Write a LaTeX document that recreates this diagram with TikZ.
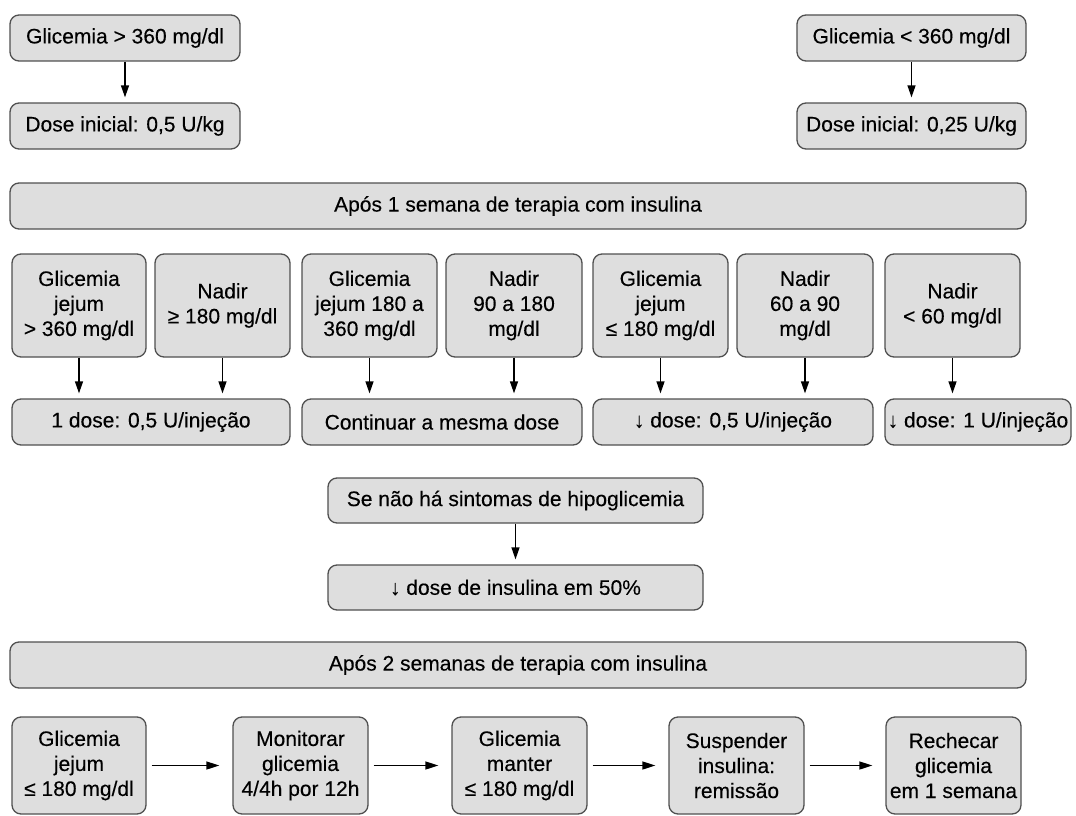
\documentclass[tikz,border=0pt]{standalone}
\usepackage{fontspec}
\setmainfont[FakeBold=0.25]{Liberation Sans}
\usetikzlibrary{arrows.meta}
\definecolor{boxfill}{HTML}{DEDEDE}
\definecolor{boxdraw}{HTML}{505050}
\tikzset{
  box/.style={draw=boxdraw, fill=boxfill, line width=1.3pt, rounded corners=9pt,
    inner sep=0pt, align=center, minimum height=46pt,
    font=\fontsize{21}{25}\selectfont},
  tall/.style={minimum height=103pt},
  arr/.style={line width=1.3pt, -{Triangle[length=12pt,width=8pt]}, shorten >=5pt},
  harr/.style={line width=1.3pt, -{Triangle[length=13pt,width=8pt]}, shorten >=13pt, shorten <=5pt},
}
\begin{document}
\begin{tikzpicture}[x=1pt,y=-1pt]
\useasboundingbox[fill=white] (0,0) rectangle (1076,816);
% row 1-2
\node[box, minimum width=230pt] (a1) at (125,38) {Glicemia > 360 mg/dl};
\node[box, minimum width=229pt] (a2) at (911.5,38) {Glicemia < 360 mg/dl};
\node[box, minimum width=230pt] (b1) at (125,126) {Dose inicial: 0,5 U/kg};
\node[box, minimum width=229pt] (b2) at (911.5,126) {Dose inicial: 0,25 U/kg};
\draw[arr] (a1) -- (b1);
\draw[arr] (a2) -- (b2);
% semana 1
\node[box, minimum width=1016pt] (s1) at (518,206) {Após 1 semana de terapia com insulina};
% row 4
\node[box, tall, minimum width=134pt] (c1) at (79,305.5) {Glicemia\\jejum\\> 360 mg/dl};
\node[box, tall, minimum width=135pt] (c2) at (222.5,305.5) {Nadir\\≥ 180 mg/dl};
\node[box, tall, minimum width=135pt] (c3) at (369.5,305.5) {Glicemia\\jejum 180 a\\360 mg/dl};
\node[box, tall, minimum width=136pt] (c4) at (514,305.5) {Nadir\\90 a 180\\mg/dl};
\node[box, tall, minimum width=135pt] (c5) at (660.5,305.5) {Glicemia\\jejum\\≤ 180 mg/dl};
\node[box, tall, minimum width=136pt] (c6) at (805,305.5) {Nadir\\60 a 90\\mg/dl};
\node[box, tall, minimum width=135pt] (c7) at (952.5,305.5) {Nadir\\< 60 mg/dl};
% row 5
\node[box, minimum width=278pt] (d1) at (151,422) {1 dose: 0,5 U/injeção};
\node[box, minimum width=280pt] (d2) at (442,422) {Continuar a mesma dose};
\node[box, minimum width=280pt] (d3) at (733,422) {↓ dose: 0,5 U/injeção};
\node[box, minimum width=186pt] (d4) at (978,422) {↓ dose: 1 U/injeção};
\foreach \c/\d in {c1/d1,c2/d1,c3/d2,c4/d2,c5/d3,c6/d3,c7/d4}
  \draw[arr] (\c.south) -- (\c.south |- \d.north);
% hipoglicemia
\node[box, minimum width=375pt, minimum height=45pt] (e1) at (515.5,500.5) {Se não há sintomas de hipoglicemia};
\node[box, minimum width=375pt, minimum height=45pt] (e2) at (515.5,587.5) {↓ dose de insulina em 50\%};
\draw[arr] (e1) -- (e2);
% semana 2
\node[box, minimum width=1016pt] (s2) at (518,665) {Após 2 semanas de terapia com insulina};
% row 8
\node[box, minimum width=134pt, minimum height=97pt] (f1) at (79,765.5) {Glicemia\\jejum\\≤ 180 mg/dl};
\node[box, minimum width=135pt, minimum height=97pt] (f2) at (300.5,765.5) {Monitorar\\glicemia\\4/4h por 12h};
\node[box, minimum width=135pt, minimum height=97pt] (f3) at (519.5,765.5) {Glicemia\\manter\\≤ 180 mg/dl};
\node[box, minimum width=135pt, minimum height=97pt] (f4) at (736.5,765.5) {Suspender\\insulina:\\remissão};
\node[box, minimum width=135pt, minimum height=97pt] (f5) at (953.5,765.5) {Rechecar\\glicemia\\em 1 semana};
\draw[harr] (f1) -- (f2);
\draw[harr] (f2) -- (f3);
\draw[harr] (f3) -- (f4);
\draw[harr] (f4) -- (f5);
\end{tikzpicture}
\end{document}
